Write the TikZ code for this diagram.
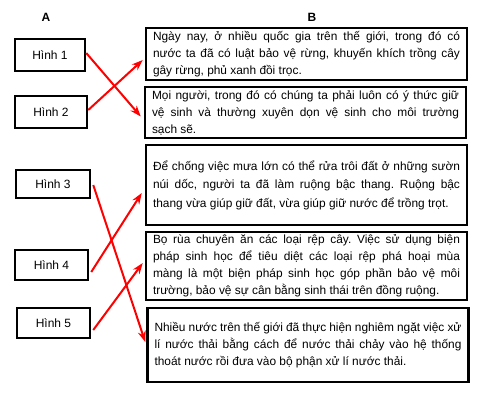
\documentclass[tikz,border=0pt]{standalone}
\usepackage{fontspec}
\setmainfont{Liberation Sans}
\usetikzlibrary{arrows.meta,calc}
\frenchspacing
\begin{document}
\begin{tikzpicture}[x=1pt,y=-1pt,
  abox/.style={draw=black,line width=2.5pt,minimum height=30pt,inner sep=0pt,font=\fontsize{12}{14}\selectfont},
  bbox/.style={draw=black,line width=2.5pt,inner xsep=7pt,inner ysep=0pt,text width=307pt,align=justify,font=\fontsize{11.9}{17}\selectfont\frenchspacing},
  head/.style={font=\bfseries\fontsize{12}{14}\selectfont},
  link/.style={draw=red,line width=2pt,-{Stealth[length=11pt,width=8pt]}}]
\useasboundingbox (0,0) rectangle (485,400);
\node[head] (ha) at (46,17) {A};
\node[head] (hb) at (312,17) {B};
\node[abox,minimum width=70pt,minimum height=32pt] (h1) at (50,55) {Hình 1};
\node[abox,minimum width=72pt,minimum height=32pt] (h2) at (51,112) {Hình 2};
\node[abox,minimum width=74pt,minimum height=28pt] (h3) at (53,184) {Hình 3};
\node[abox,minimum width=73pt,minimum height=30pt] (h4) at (51.5,265) {Hình 4};
\node[abox,minimum width=73pt,minimum height=30pt] (h5) at (53.5,323) {Hình 5};
\node[bbox,minimum height=52pt] (b1) at (306.5,54) {Ngày nay, ở nhiều quốc gia trên thế giới, trong đó có\linebreak nước ta đã có luật bảo vệ rừng, khuyến khích trồng cây\linebreak gây rừng, phủ xanh đồi trọc.};
\node[bbox,minimum height=51pt] (b2) at (305.5,112.5) {Mọi người, trong đó có chúng ta phải luôn có ý thức giữ\linebreak vệ sinh và thường xuyên dọn vệ sinh cho môi trường\linebreak sạch sẽ.};
\node[bbox,minimum height=80pt,font=\fontsize{11.9}{18.5}\selectfont\frenchspacing] (b3) at (306.5,185) {Để chống việc mưa lớn có thể rửa trôi đất ở những sườn\linebreak núi dốc, người ta đã làm ruộng bậc thang. Ruộng bậc\linebreak thang vừa giúp giữ đất, vừa giúp giữ nước để trồng trọt.};
\node[bbox,minimum height=68pt] (b4) at (306.5,266) {Bọ rùa chuyên ăn các loại rệp cây. Việc sử dụng biện\linebreak pháp sinh học để tiêu diệt các loại rệp phá hoại mùa\linebreak màng là một biện pháp sinh học góp phần bảo vệ môi\linebreak trường, bảo vệ sự cân bằng sinh thái trên đồng ruộng.};
\node[bbox,minimum height=74pt] (b5) at (308,345) {Nhiều nước trên thế giới đã thực hiện nghiêm ngặt việc xử\linebreak lí nước thải bằng cách để nước thải chảy vào hệ thống\linebreak thoát nước rồi đưa vào bộ phận xử lí nước thải.};
\draw[link] ($(h1.east)+(0,-2)$) -- ($(b2.west)+(-3,4)$);
\draw[link] ($(h2.east)+(0,-2)$) -- ($(b1.west)+(-2,6)$);
\draw[link] ($(h3.east)+(2,1)$) -- ($(b5.west)+(-1,-3)$);
\draw[link] ($(h4.east)+(2,7)$) -- ($(b3.west)+(-3,8)$);
\draw[link] ($(h5.east)+(2,7)$) -- ($(b4.west)+(-2,-3)$);
\end{tikzpicture}
\end{document}
